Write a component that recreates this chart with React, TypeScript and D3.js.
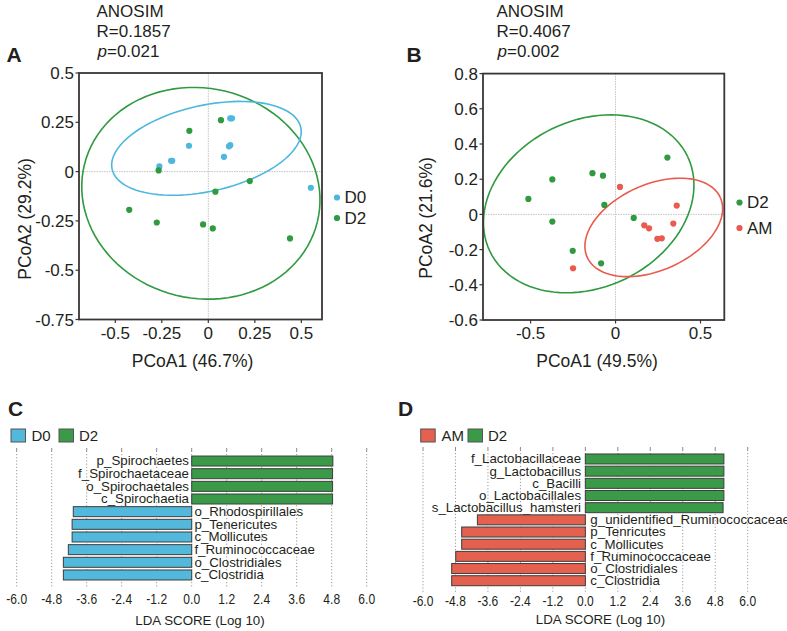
import React from 'react';
import * as d3 from 'd3';

// ---------- Panel A data (PCoA, D0 vs D2) ----------
const aD0X = [-0.263, -0.2, -0.194, -0.104, 0.084, 0.111, 0.118, 0.118, 0.127, 0.551];
const aD0Y = [0.026, 0.055, 0.055, 0.131, 0.075, 0.128, 0.134, 0.27, 0.27, -0.082];
const aD2X = [-0.267, -0.102, 0.068, 0.223, 0.038, -0.425, -0.277, -0.028, 0.024, 0.439];
const aD2Y = [0.006, 0.207, 0.261, -0.048, -0.102, -0.194, -0.258, -0.268, -0.288, -0.339];
// ellipse: centre x, centre y, semi-axis vector u (x,y), semi-axis vector v (x,y)
const aD0Ellipse = [-0.01, 0.118, 0.507, 0.106, 0.05, -0.213];
const aD2Ellipse = [-0.04, -0.11, 0.626, -0.145, -0.134, -0.517];
const aXTicks = [-0.5, -0.25, 0, 0.25, 0.5];
const aYTicks = [0.5, 0.25, 0, -0.25, -0.5, -0.75];
const aStats = ['ANOSIM', 'R=0.1857', '0.021'];

// ---------- Panel B data (PCoA, D2 vs AM) ----------
const bD2X = [-0.513, -0.372, -0.372, -0.136, -0.074, -0.066, -0.252, -0.085, 0.107, 0.305];
const bD2Y = [0.088, 0.199, -0.041, 0.234, 0.22, 0.054, -0.207, -0.278, -0.02, 0.323];
const bAMX = [0.026, 0.36, 0.34, 0.169, 0.197, 0.246, 0.272, -0.25];
const bAMY = [0.156, 0.05, -0.052, -0.062, -0.079, -0.139, -0.136, -0.306];
const bD2Ellipse = [-0.158, 0.06, 0.582, 0.269, 0.212, -0.428];
const bAMEllipse = [0.225, -0.074, 0.392, 0.169, 0.103, -0.223];
const bXTicks = [-0.5, 0, 0.5];
const bYTicks = [0.8, 0.6, 0.4, 0.2, 0, -0.2, -0.4, -0.6];
const bStats = ['ANOSIM', 'R=0.4067', '0.002'];

// ---------- Panel C / D data (LEfSe) ----------
const cTaxa = ['p_Spirochaetes', 'f_Spirochaetaceae', 'o_Spirochaetales', 'c_Spirochaetia', 'o_Rhodospirillales', 'p_Tenericutes', 'c_Mollicutes', 'f_Ruminococcaceae', 'o_Clostridiales', 'c_Clostridia'];
const cLDA = [4.84, 4.83, 4.83, 4.83, -4.06, -4.1, -4.1, -4.23, -4.4, -4.4];
const dTaxa = ['f_Lactobacillaceae', 'g_Lactobacillus', 'c_Bacilli', 'o_Lactobacillales', 's_Lactobacillus_hamsteri', 'g_unidentified_Ruminococcaceae', 'p_Tenricutes', 'c_Mollicutes', 'f_Ruminococcaceae', 'o_Clostridiales', 'c_Clostridia'];
const dLDA = [5.12, 5.12, 5.12, 5.12, 5.09, -3.99, -4.57, -4.57, -4.79, -4.94, -4.94];
const ldaTicks = [-6, -4.8, -3.6, -2.4, -1.2, 0, 1.2, 2.4, 3.6, 4.8, 6];

const BLUE = '#4cb8de';
const GREEN = '#2f9a3f';
const RED = '#e95b4e';
const BAR_BLUE = '#52b9dc';
const BAR_GREEN = '#3a9a48';
const BAR_RED = '#e4604f';
const FONT = 'Liberation Sans, Arial, Helvetica, sans-serif';

function ellipsePath(e: number[], x: d3.ScaleLinear<number, number>, y: d3.ScaleLinear<number, number>) {
  const ts = d3.range(0, 101).map((i) => (i / 100) * Math.PI * 2);
  const line = d3.line<number>()
    .x((t) => x(e[0] + Math.cos(t) * e[2] + Math.sin(t) * e[4]))
    .y((t) => y(e[1] + Math.cos(t) * e[3] + Math.sin(t) * e[5]));
  return line(ts) || '';
}

type Group = { name: string; xs: number[]; ys: number[]; color: string; ellipse: number[] };

function Scatter(props: {
  letter: string; letterX: number; statsX: number; stats: string[];
  xDomain: [number, number]; xRange: [number, number];
  yDomain: [number, number]; yRange: [number, number];
  xTicks: number[]; yTicks: number[];
  xTitle: string; yTitle: string; xTitleX: number; yTitleX: number; yTitleY: number;
  groups: Group[]; legendX: number; legendY: number[];
  ellipseOrder: number[];
}) {
  const x = d3.scaleLinear().domain(props.xDomain).range(props.xRange);
  const y = d3.scaleLinear().domain(props.yDomain).range(props.yRange);
  const [x0, x1] = props.xRange;
  const [yb, yt] = props.yRange;
  return (
    <g fontFamily={FONT} fill="#231f20">
      <text x={props.letterX} y={61.5} fontSize={21} fontWeight="bold">{props.letter}</text>
      <text x={props.statsX} y={17} fontSize={17}>{props.stats[0]}</text>
      <text x={props.statsX} y={37.3} fontSize={17}>{props.stats[1]}</text>
      <text x={props.statsX + 1} y={57.3} fontSize={17}><tspan fontStyle="italic">p</tspan>={props.stats[2]}</text>
      {/* zero lines */}
      <line x1={x(0)} x2={x(0)} y1={yt} y2={yb} stroke="#c4c4c4" strokeDasharray="1.5,1" strokeWidth={1} />
      <line x1={x0} x2={x1} y1={y(0)} y2={y(0)} stroke="#c4c4c4" strokeDasharray="1.5,1" strokeWidth={1} />
      {/* ellipses */}
      {props.ellipseOrder.map((gi) => (
        <path key={'e' + gi} d={ellipsePath(props.groups[gi].ellipse, x, y)} fill="none" stroke={props.groups[gi].color} strokeWidth={1.6} />
      ))}
      {/* points */}
      {props.groups.map((g, gi) => g.xs.map((v, i) => (
        <circle key={gi + '-' + i} cx={x(v)} cy={y(g.ys[i])} r={3.1} fill={g.color} />
      )))}
      {/* frame */}
      <rect x={x0} y={yt} width={x1 - x0} height={yb - yt} fill="none" stroke="#3b3536" strokeWidth={1.8} />
      {props.yTicks.map((t) => (
        <g key={'yt' + t}>
          <line x1={x0 - 3.5} x2={x0} y1={y(t)} y2={y(t)} stroke="#3b3536" strokeWidth={1.2} />
          <text x={x0 - 5} y={y(t)} dy="0.36em" textAnchor="end" fontSize={17}>{String(t)}</text>
        </g>
      ))}
      {props.xTicks.map((t) => (
        <g key={'xt' + t}>
          <line x1={x(t)} x2={x(t)} y1={yb} y2={yb + 3.5} stroke="#3b3536" strokeWidth={1.2} />
          <text x={x(t)} y={338.5} textAnchor="middle" fontSize={17}>{String(t)}</text>
        </g>
      ))}
      <text x={props.xTitleX} y={366.5} textAnchor="middle" fontSize={17.5}>{props.xTitle}</text>
      <text transform={`translate(${props.yTitleX},${props.yTitleY}) rotate(-90)`} textAnchor="middle" fontSize={17.5}>{props.yTitle}</text>
      {/* legend */}
      {props.groups.map((g, gi) => (
        <g key={'lg' + gi}>
          <circle cx={props.legendX} cy={props.legendY[gi] - 5.5} r={3.1} fill={g.color} />
          <text x={props.legendX + 7.5} y={props.legendY[gi]} fontSize={17}>{g.name}</text>
        </g>
      ))}
    </g>
  );
}

function Lefse(props: {
  letter: string; letterX: number;
  taxa: string[]; lda: number[];
  xRange: [number, number]; yRange: [number, number]; padInner: number;
  gridTop: number; gridBottom: number; tickY: number; titleY: number; titleX: number;
  negColor: string; posColor: string; negName: string; posName: string;
  legend: number[]; posGap: number; negGap: number;
}) {
  const x = d3.scaleLinear().domain([-6, 6]).range(props.xRange);
  const yb = d3.scaleBand<string>().domain(props.taxa).range(props.yRange)
    .paddingInner(props.padInner).paddingOuter(props.padInner / 2);
  const L = props.legend;
  return (
    <g fontFamily={FONT} fill="#231f20">
      <text x={props.letterX} y={416} fontSize={21} fontWeight="bold">{props.letter}</text>
      <rect x={L[0]} y={429} width={14.5} height={13} fill={props.negColor} stroke="#555" strokeWidth={1} />
      <text x={L[1]} y={440.5} fontSize={15}>{props.negName}</text>
      <rect x={L[2]} y={429} width={14.5} height={13} fill={props.posColor} stroke="#555" strokeWidth={1} />
      <text x={L[3]} y={440.5} fontSize={15}>{props.posName}</text>
      {ldaTicks.map((t) => (
        <g key={'g' + t}>
          <line x1={x(t)} x2={x(t)} y1={props.gridTop} y2={props.gridTop + 4} stroke="#8a8a8a" strokeWidth={1} />
          <line x1={x(t)} x2={x(t)} y1={props.gridTop + 6} y2={props.gridBottom} stroke="#9a9a9a" strokeWidth={1} strokeDasharray="1.2,2" />
          <text transform={`translate(${x(t)},${props.tickY}) scale(0.86,1)`} textAnchor="middle" fontSize={14}>{t.toFixed(1)}</text>
        </g>
      ))}
      {props.taxa.map((name, i) => {
        const v = props.lda[i];
        const yy = yb(name) as number;
        const h = yb.bandwidth();
        const pos = v > 0;
        return (
          <g key={name}>
            <rect x={Math.min(x(0), x(v))} y={yy} width={Math.abs(x(v) - x(0))} height={h}
              fill={pos ? props.posColor : props.negColor} stroke="#3d3d3d" strokeWidth={1} />
            <text x={pos ? x(0) - props.posGap : x(0) + props.negGap} y={yy + h / 2} dy="0.33em"
              textAnchor={pos ? 'end' : 'start'} fontSize={13.3}>{name}</text>
          </g>
        );
      })}
      <text x={props.titleX} y={props.titleY} textAnchor="middle" fontSize={13.3}>LDA SCORE (Log 10)</text>
    </g>
  );
}

const legendYA = [203, 223.5];
const legendYB = [208, 233.5];

export default function App() {
  return (
    <svg width={787} height={631} style={{ position: 'absolute', left: 0, top: 0, background: '#fff' }}>
      <rect x={0} y={0} width={787} height={631} fill="#fff" />
      <Scatter
        letter="A" letterX={6.5} statsX={96.5} stats={aStats}
        xDomain={[-0.695, 0.611]} xRange={[79, 322]}
        yDomain={[-0.75, 0.5]} yRange={[319.5, 73]}
        xTicks={aXTicks} yTicks={aYTicks}
        xTitle="PCoA1 (46.7%)" yTitle="PCoA2 (29.2%)" xTitleX={192.5} yTitleX={31} yTitleY={219}
        groups={[
          { name: 'D0', xs: aD0X, ys: aD0Y, color: BLUE, ellipse: aD0Ellipse },
          { name: 'D2', xs: aD2X, ys: aD2Y, color: GREEN, ellipse: aD2Ellipse },
        ]}
        ellipseOrder={[1, 0]}
        legendX={337} legendY={legendYA} />
      <Scatter
        letter="B" letterX={406.5} statsX={496.5} stats={bStats}
        xDomain={[-0.78, 0.64]} xRange={[483, 724.3]}
        yDomain={[-0.6, 0.8]} yRange={[320, 73.6]}
        xTicks={bXTicks} yTicks={bYTicks}
        xTitle="PCoA1 (49.5%)" yTitle="PCoA2 (21.6%)" xTitleX={597} yTitleX={432} yTitleY={218}
        groups={[
          { name: 'D2', xs: bD2X, ys: bD2Y, color: GREEN, ellipse: bD2Ellipse },
          { name: 'AM', xs: bAMX, ys: bAMY, color: RED, ellipse: bAMEllipse },
        ]}
        ellipseOrder={[0, 1]}
        legendX={739.5} legendY={legendYB} />
      <Lefse
        letter="C" letterX={8} taxa={cTaxa} lda={cLDA}
        xRange={[16.7, 366.7]} yRange={[454.7, 581.3]} padInner={0.21}
        gridTop={448} gridBottom={587} tickY={603.5} titleY={625} titleX={200}
        negColor={BAR_BLUE} posColor={BAR_GREEN} negName="D0" posName="D2"
        legend={[11, 31.5, 59, 79]} posGap={2.7} negGap={2.7} />
      <Lefse
        letter="D" letterX={398} taxa={dTaxa} lda={dLDA}
        xRange={[423, 747.7]} yRange={[452.9, 586.8]} padInner={0.178}
        gridTop={447} gridBottom={593} tickY={606} titleY={623.5} titleX={600.5}
        negColor={BAR_RED} posColor={BAR_GREEN} negName="AM" posName="D2"
        legend={[420.7, 441.5, 468, 488]} posGap={4.3} negGap={5} />
    </svg>
  );
}
